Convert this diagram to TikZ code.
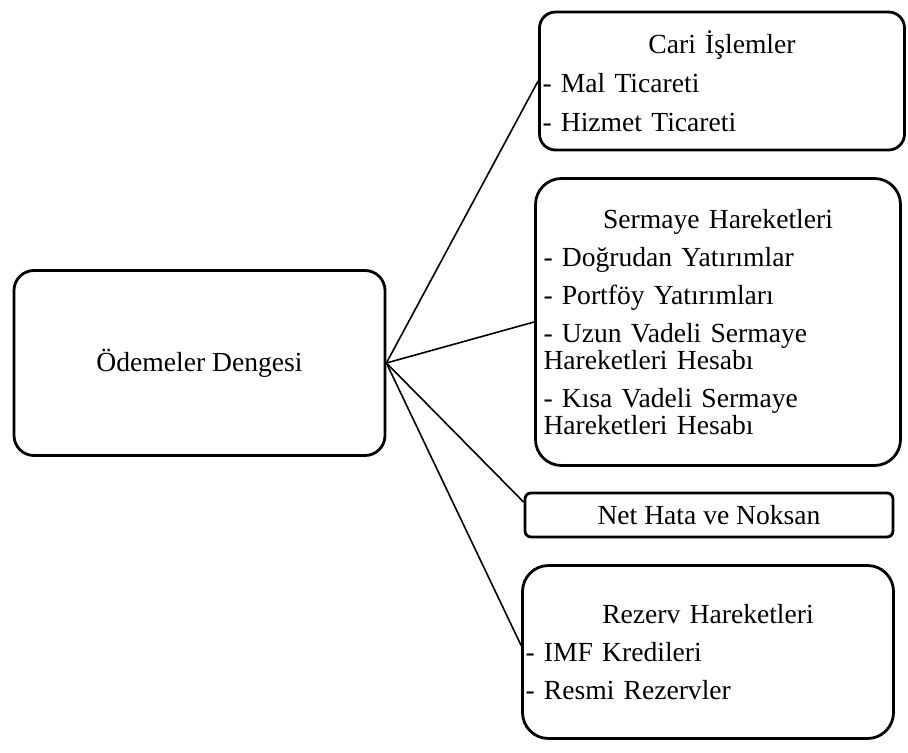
\documentclass[tikz,border=0pt]{standalone}
\usepackage{fontspec}
\setmainfont{Liberation Serif}

\begin{document}
\begin{tikzpicture}[x = 0.5pt, y = -0.5pt]
\tikzstyle{kutu} = [draw, line width = 1.4pt, font = \fontsize{13.8pt}{13.5pt}\selectfont, inner xsep = 1.5pt, inner ysep = 0pt, align = left]
\tikzstyle{bag} = [line width = 0.8pt]
\useasboundingbox (0,0) rectangle (908,753);

\node [kutu, align = center, rounded corners = 10pt, minimum width = 185.5pt, minimum height = 92.5pt] (odeme) at (199.5,363) {Ödemeler Dengesi};

\node [kutu, rounded corners = 8pt, text width = 179.5pt, minimum height = 69pt] (cari) at (722,81)
 {\makebox[\linewidth]{Cari İşlemler}\\[6pt] - Mal Ticareti\\[6pt] - Hizmet Ticareti};
\node [kutu, rounded corners = 13pt, inner xsep = 4pt, text width = 174.5pt, minimum height = 143.5pt] (sermaye) at (718,322)
 {\makebox[\linewidth]{Sermaye Hareketleri}\\[5.5pt] - Doğrudan Yatırımlar\\[5.5pt] - Portföy Yatırımları\\[5.5pt] - Uzun Vadeli Sermaye\\ Hareketleri Hesabı\\[5.5pt] - Kısa Vadeli Sermaye\\ Hareketleri Hesabı};
\node [kutu, align = center, rounded corners = 3pt, minimum width = 184pt, minimum height = 22pt] (nethata) at (709,515) {Net Hata ve Noksan};
\node [kutu, rounded corners = 13pt, text width = 182.5pt, minimum height = 86.5pt] (rezerv) at (708,652)
 {\makebox[\linewidth]{Rezerv Hareketleri}\\[5.5pt] - IMF Kredileri\\[5.5pt] - Resmi Rezervler};

\draw [bag] (odeme.east) -- (cari.west);
\draw [bag] (odeme.east) -- (sermaye.west);
\draw [bag] (odeme.east) -- (nethata.176);
\draw [bag] (odeme.east) -- (rezerv.178);

\end{tikzpicture}
\end{document}
